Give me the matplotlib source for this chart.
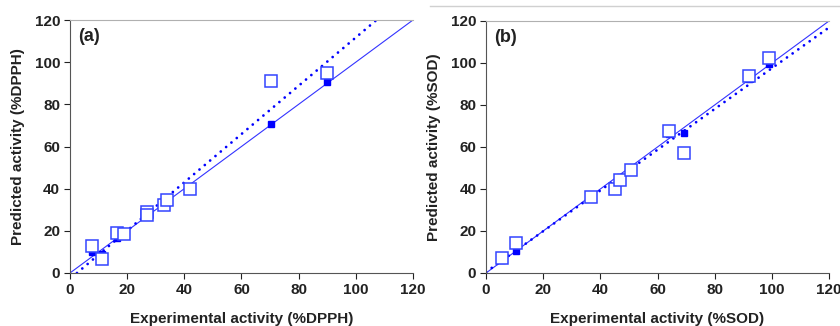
import matplotlib.pyplot as plt
from matplotlib.lines import Line2D
import numpy as np

plt.rcParams['font.family'] = ['Liberation Sans', 'DejaVu Sans']
plt.rcParams['font.weight'] = 'bold'

# (a) DPPH
dpph_exp_open = [7.6, 11.1, 16.3, 19.0, 26.8, 27.1, 32.9, 33.8, 41.9, 70.5, 90.1]
dpph_pred_open = [12.8, 6.5, 19.2, 18.7, 29.0, 27.7, 32.1, 34.5, 39.9, 91.3, 95.0]
dpph_exp_fill = [7.6, 11.1, 16.3, 19.0, 26.8, 33.0, 34.0, 41.9, 70.5, 90.1]
dpph_pred_fill = [10.0, 8.9, 16.8, 19.0, 27.5, 32.5, 34.0, 41.0, 70.8, 90.7]
dpph_trend = (1.145, -2.8)   # dotted fit line (slope, intercept)

# (b) SOD
sod_exp_open = [5.5, 10.4, 36.9, 45.2, 46.8, 50.6, 64.1, 69.3, 92.0, 99.0]
sod_pred_open = [7.1, 14.2, 36.4, 40.1, 44.3, 49.1, 67.6, 57.3, 93.7, 102.4]
sod_exp_fill = [5.5, 10.4, 36.9, 46.8, 50.6, 64.1, 69.3, 92.0, 99.0]
sod_pred_fill = [6.0, 10.3, 36.5, 45.5, 49.5, 66.0, 66.6, 92.5, 99.3]
sod_trend = (0.97, 0.5)

ticks = [0, 20, 40, 60, 80, 100, 120]
blue = '#0000ff'

fig = plt.figure(figsize=(8.4, 3.26), dpi=100)
axA = fig.add_axes([0.0833, 0.1626, 0.4083, 0.776])
axB = fig.add_axes([0.5786, 0.1626, 0.4083, 0.7730])


def draw(ax, xo, yo, xf, yf, trend, label, tag):
    xx = np.array([0, 120])
    ax.plot(xx, xx, '-', color='#3333ff', lw=0.8, zorder=2)
    x_start = max(0, -trend[1] / trend[0])
    x_end = min(120, (120 - trend[1]) / trend[0])
    xt = np.array([x_start, x_end])
    ax.plot(xt, trend[0] * xt + trend[1], color=blue, lw=2.0,
            linestyle=(0, (0.01, 2.5)), dash_capstyle='round', zorder=2)
    ax.plot(xf, yf, 's', color=blue, ms=5, zorder=3, clip_on=False)
    ax.plot(xo, yo, 's', mfc='white', mec='#3344ff', mew=1.1, ms=8.5,
            zorder=4, clip_on=False)
    ax.set_xlim(0, 120)
    ax.set_ylim(0, 120)
    ax.set_xticks(ticks)
    ax.set_yticks(ticks)
    ax.tick_params(labelsize=11, length=4, width=0.8, colors='#222222', pad=3)
    for lab in ax.get_xticklabels() + ax.get_yticklabels():
        lab.set_fontweight('bold')
    ax.spines['right'].set_visible(False)
    ax.spines['top'].set_color('#b0b0b0')
    ax.spines['top'].set_linewidth(0.8)
    ax.spines['left'].set_color('#555555')
    ax.spines['bottom'].set_color('#555555')
    ax.set_xlabel('Experimental activity (%' + label + ')', fontsize=11,
                  fontweight='bold', labelpad=11, color='#222222')
    ax.set_ylabel('Predicted activity (%' + label + ')', fontsize=11,
                  fontweight='bold', labelpad=7, color='#222222')
    ax.text(3, 112, tag, fontsize=13, fontweight='bold', va='center',
            color='#222222')


draw(axA, dpph_exp_open, dpph_pred_open, dpph_exp_fill, dpph_pred_fill,
     dpph_trend, 'DPPH', '(a)')
draw(axB, sod_exp_open, sod_pred_open, sod_exp_fill, sod_pred_fill,
     sod_trend, 'SOD', '(b)')

fig.add_artist(Line2D([430 / 840, 1.0], [1 - 6 / 326, 1 - 6 / 326],
                      color='#d0d0d0', lw=1))

plt.savefig('out.png', dpi=100)
